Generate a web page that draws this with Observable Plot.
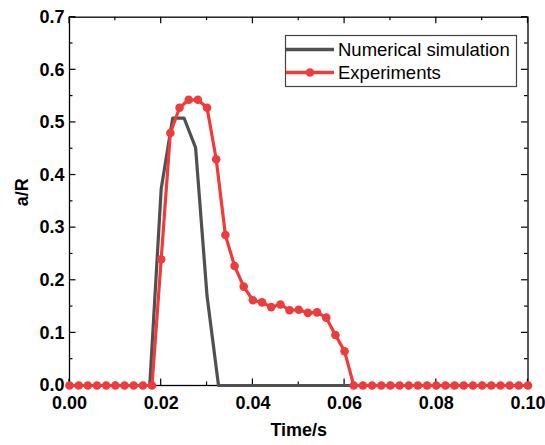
<!DOCTYPE html>
<html>
<head>
<meta charset="utf-8">
<script src="https://cdn.jsdelivr.net/npm/d3@7"></script>
<script src="https://cdn.jsdelivr.net/npm/@observablehq/plot@0.6"></script>
<style>
  html, body { margin: 0; padding: 0; background: #fff; }
</style>
</head>
<body>
<div id="chart"></div>
<script>
// ---- data ----
const expTime = [0, 0.002, 0.004, 0.006, 0.008, 0.010, 0.012, 0.014, 0.016, 0.018,
  0.020, 0.022, 0.024, 0.026, 0.028, 0.030, 0.032, 0.034, 0.036, 0.038,
  0.040, 0.042, 0.044, 0.046, 0.048, 0.050, 0.052, 0.054, 0.056, 0.058,
  0.060, 0.062, 0.064, 0.066, 0.068, 0.070, 0.072, 0.074, 0.076, 0.078,
  0.080, 0.082, 0.084, 0.086, 0.088, 0.090, 0.092, 0.094, 0.096, 0.098, 0.100];
const expValue = [0, 0, 0, 0, 0, 0, 0, 0, 0, 0,
  0.240, 0.480, 0.528, 0.543, 0.543, 0.528, 0.430, 0.286, 0.227, 0.188,
  0.162, 0.158, 0.149, 0.154, 0.143, 0.144, 0.138, 0.139, 0.129, 0.096,
  0.065, 0, 0, 0, 0, 0, 0, 0, 0, 0,
  0, 0, 0, 0, 0, 0, 0, 0, 0, 0, 0];
const simTime = [0, 0.0175, 0.0200, 0.0225, 0.0250, 0.0275, 0.0300, 0.0325, 0.1000];
const simValue = [0, 0, 0.374, 0.508, 0.508, 0.452, 0.170, 0, 0];

const xMajor = [0, 0.02, 0.04, 0.06, 0.08, 0.10];
const xMinor = [0.01, 0.03, 0.05, 0.07, 0.09];
const yMajor = [0, 0.1, 0.2, 0.3, 0.4, 0.5, 0.6, 0.7];
const yMinor = [0.05, 0.15, 0.25, 0.35, 0.45, 0.55, 0.65];
const seriesNames = ["Numerical simulation", "Experiments"];
const xTitle = "Time/s";
const yTitle = "a/R";

const RED = "#EE3B3B";
const GRAY = "#505050";

const exp = expTime.map((t, i) => ({t, v: expValue[i]}));
const sim = simTime.map((t, i) => ({t, v: simValue[i]}));

const FONT = "'Liberation Sans', Arial, sans-serif";
const W = 545, H = 445, ML = 69, MR = 17.5, MT = 16.7, MB = 60;
const MAJ = 6.5, MIN = 3.5;

const chart = Plot.plot({
  width: W,
  height: H,
  marginLeft: ML,
  marginRight: MR,
  marginTop: MT,
  marginBottom: MB,
  x: {domain: [0, 0.1]},
  y: {domain: [0, 0.7]},
  style: {fontFamily: FONT, fontSize: "18px", background: "white", color: "#000"},
  marks: [
    // tick labels
    Plot.axisX({ticks: xMajor, tickSize: 0, tickPadding: 11, tickFormat: d => d.toFixed(2), fontWeight: "bold", label: null}),
    Plot.axisY({ticks: yMajor, tickSize: 0, tickPadding: 5, tickFormat: d => d.toFixed(1), fontWeight: "bold", label: null}),
    // data
    Plot.line(sim, {x: "t", y: "v", stroke: GRAY, strokeWidth: 3.2}),
    Plot.line(exp, {x: "t", y: "v", stroke: RED, strokeWidth: 3.2}),
    Plot.dot(exp, {x: "t", y: "v", r: 4.3, fill: RED, stroke: "none"}),
    Plot.frame({stroke: "#000", strokeWidth: 1.3}),
    // axis titles
    Plot.text([xTitle], {frameAnchor: "bottom", dy: 50, fontWeight: "bold", fontSize: 18}),
    Plot.text([yTitle], {frameAnchor: "left", rotate: -90, dx: -47, dy: 5, fontWeight: "bold", fontSize: 18})
  ]
});

// inward ticks on all four sides, positioned through Plot's scales
const sx = chart.scale("x"), sy = chart.scale("y");
const x0 = sx.apply(0), x1 = sx.apply(0.1), y0 = sy.apply(0), y1 = sy.apply(0.7);
const svg = d3.select(chart);
const tg = svg.insert("g", "g[aria-label='frame']").attr("stroke", "#000").attr("stroke-width", 1.2);
const addX = (vals, len) => vals.forEach(v => {
  const px = sx.apply(v);
  tg.append("line").attr("x1", px).attr("x2", px).attr("y1", y0).attr("y2", y0 - len);
  tg.append("line").attr("x1", px).attr("x2", px).attr("y1", y1).attr("y2", y1 + len);
});
const addY = (vals, len) => vals.forEach(v => {
  const py = sy.apply(v);
  tg.append("line").attr("y1", py).attr("y2", py).attr("x1", x0).attr("x2", x0 + len);
  tg.append("line").attr("y1", py).attr("y2", py).attr("x1", x1).attr("x2", x1 - len);
});
addX(xMajor, MAJ); addX(xMinor, MIN); addY(yMajor, MAJ); addY(yMinor, MIN);
// keep data drawn above the ticks
svg.selectAll("g[aria-label='line'], g[aria-label='dot']").raise();
svg.select("g[aria-label='frame']").raise();

// legend inside the frame (top-right)
const lg = svg.append("g").attr("font-family", FONT).attr("font-size", 18.5).attr("text-anchor", "start");
lg.append("rect").attr("x", 285.5).attr("y", 35.5).attr("width", 231).attr("height", 51)
  .attr("fill", "white").attr("stroke", "#444").attr("stroke-width", 1.2);
const rows = [{name: seriesNames[0], color: GRAY, dot: false, y: 49.5},
              {name: seriesNames[1], color: RED, dot: true, y: 72.5}];
rows.forEach(r => {
  lg.append("line").attr("x1", 286).attr("x2", 334).attr("y1", r.y).attr("y2", r.y)
    .attr("stroke", r.color).attr("stroke-width", 3.5);
  if (r.dot) lg.append("circle").attr("cx", 310).attr("cy", r.y).attr("r", 4.3).attr("fill", r.color);
  lg.append("text").attr("x", 338).attr("y", r.y).attr("dy", "0.35em").attr("fill", "#000")
    .attr("text-anchor", "start").text(r.name);
});

document.getElementById("chart").appendChild(chart);
</script>
</body>
</html>
